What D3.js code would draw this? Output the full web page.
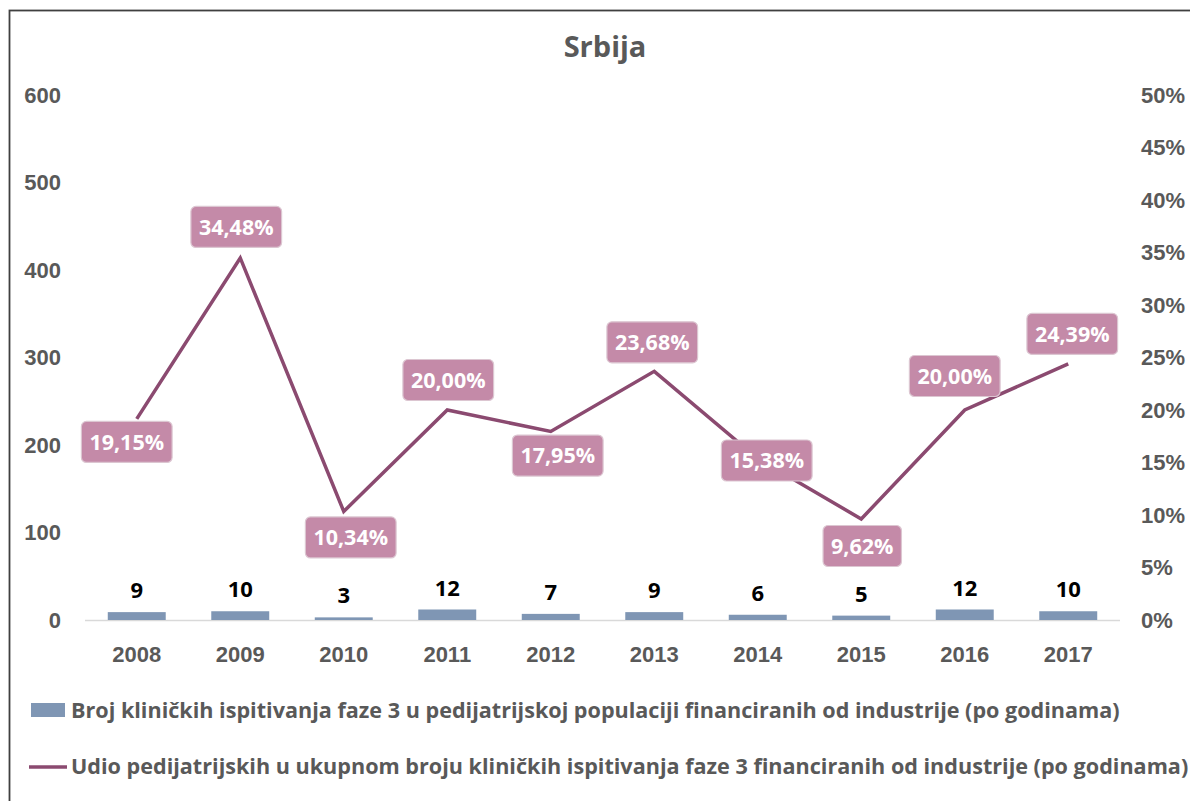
<!DOCTYPE html>
<html>
<head>
<meta charset="utf-8">
<script src="https://cdn.jsdelivr.net/npm/d3@7"></script>
<style>
  body { margin: 0; background: #fff; }
  svg { display: block; font-family: "Open Sans", Lato, sans-serif; }
</style>
</head>
<body>
<div id="chart"></div>
<script>
// data
const years = ["2008", "2009", "2010", "2011", "2012", "2013", "2014", "2015", "2016", "2017"];
const trials = [9, 10, 3, 12, 7, 9, 6, 5, 12, 10];
const shares = [19.15, 34.48, 10.34, 20.00, 17.95, 23.68, 15.38, 9.62, 20.00, 24.39];
const leftTicks = [0, 100, 200, 300, 400, 500, 600];
const rightTicks = [0, 5, 10, 15, 20, 25, 30, 35, 40, 45, 50];
const barName = "Broj kliničkih ispitivanja faze 3 u pedijatrijskoj populaciji financiranih od industrije (po godinama)";
const lineName = "Udio pedijatrijskih u ukupnom broju kliničkih ispitivanja faze 3 financiranih od industrije (po godinama)";
// where Excel put each % label relative to its point
const labelShift = [[-10, 23], [-4, -31], [7, 26], [1, -30], [7, 24], [-2, -29], [9, 2], [1, 27], [-10, -34], [4, -30]];

const width = 1190, height = 801;
const barColor = "#7f96b4", lineColor = "#8b4a70", boxColor = "#c48aa8", textGrey = "#595959";

const svg = d3.select("#chart").append("svg")
    .attr("width", width)
    .attr("height", height);

// chart frame
svg.append("rect")
    .attr("x", 9.5).attr("y", 10.5)
    .attr("width", width + 20).attr("height", height + 20)
    .attr("fill", "none")
    .attr("stroke", "#404040")
    .attr("stroke-width", 1.8);

svg.append("text")
    .attr("x", 605).attr("y", 57)
    .attr("text-anchor", "middle")
    .attr("fill", textGrey)
    .style("font-weight", "bold")
    .style("font-size", "29px")
    .text("Srbija");

const x = d3.scaleBand().domain(years).range([85, 1120]);
const y = d3.scaleLinear().domain([0, 600]).range([620, 95]);
const y2 = d3.scaleLinear().domain([0, 50]).range([620, 95]);

const drawAxis = (g, axis) => {
    g.call(axis);
    g.select(".domain").remove();
    g.selectAll(".tick line").remove();
    g.selectAll(".tick text")
        .attr("fill", textGrey)
        .style("font-weight", "bold")
        .style("font-size", "22px");
};

svg.append("g")
    .attr("transform", "translate(61,0)")
    .call(g => drawAxis(g, d3.axisLeft(y).tickValues(leftTicks).tickSize(0).tickPadding(0)));

svg.append("g")
    .attr("transform", "translate(1141,0)")
    .call(g => drawAxis(g, d3.axisRight(y2).tickValues(rightTicks).tickSize(0).tickPadding(0).tickFormat(d => d + "%")));

svg.append("g")
    .attr("transform", "translate(0,620)")
    .call(g => drawAxis(g, d3.axisBottom(x).tickSize(0).tickPadding(26)));

// baseline
svg.append("line")
    .attr("x1", 85).attr("x2", 1120)
    .attr("y1", 620.5).attr("y2", 620.5)
    .attr("stroke", "#d9d9d9")
    .attr("stroke-width", 1.5);

const barW = x.bandwidth() * 0.56;
svg.append("g")
    .selectAll("rect")
    .data(trials)
    .join("rect")
    .attr("x", (d, i) => x(years[i]) + (x.bandwidth() - barW) / 2)
    .attr("y", d => y(d))
    .attr("width", barW)
    .attr("height", d => y(0) - y(d))
    .attr("fill", barColor);

svg.append("g")
    .selectAll("text")
    .data(trials)
    .join("text")
    .attr("x", (d, i) => x(years[i]) + x.bandwidth() / 2)
    .attr("y", d => y(d) - 14)
    .attr("text-anchor", "middle")
    .attr("fill", "#000")
    .style("font-weight", "bold")
    .style("font-size", "22px")
    .text(d => d);

const cx = i => x(years[i]) + x.bandwidth() / 2;

svg.append("path")
    .datum(shares)
    .attr("fill", "none")
    .attr("stroke", lineColor)
    .attr("stroke-width", 3.5)
    .attr("stroke-linejoin", "miter")
    .attr("d", d3.line().x((d, i) => cx(i)).y(d => y2(d)));

const fmt = d => d.toFixed(2).replace(".", ",") + "%";

const labels = svg.append("g")
    .selectAll("g")
    .data(shares)
    .join("g")
    .attr("transform", (d, i) => `translate(${cx(i) + labelShift[i][0]},${y2(d) + labelShift[i][1]})`);

labels.append("rect")
    .attr("fill", boxColor)
    .attr("stroke", "#dcc6d1")
    .attr("stroke-width", 1.2)
    .attr("rx", 5);

labels.append("text")
    .attr("text-anchor", "middle")
    .attr("dy", "0.36em")
    .attr("fill", "#fff")
    .style("font-weight", "bold")
    .style("font-size", "21.5px")
    .text(fmt);

labels.each(function() {
    const g = d3.select(this);
    const w = g.select("text").node().getComputedTextLength();
    g.select("rect")
        .attr("x", -w / 2 - 8).attr("y", -20.5)
        .attr("width", w + 16).attr("height", 41);
});

// legend
const legend = svg.append("g").style("font-weight", "bold").style("font-size", "21.6px");
legend.append("rect")
    .attr("x", 31).attr("y", 703)
    .attr("width", 34).attr("height", 14)
    .attr("fill", barColor);
legend.append("text")
    .attr("x", 71).attr("y", 718)
    .attr("fill", textGrey)
    .text(barName);
legend.append("line")
    .attr("x1", 29).attr("x2", 67)
    .attr("y1", 767).attr("y2", 767)
    .attr("stroke", lineColor)
    .attr("stroke-width", 3.5);
legend.append("text")
    .attr("x", 71).attr("y", 774)
    .attr("fill", textGrey)
    .text(lineName);
</script>
</body>
</html>
